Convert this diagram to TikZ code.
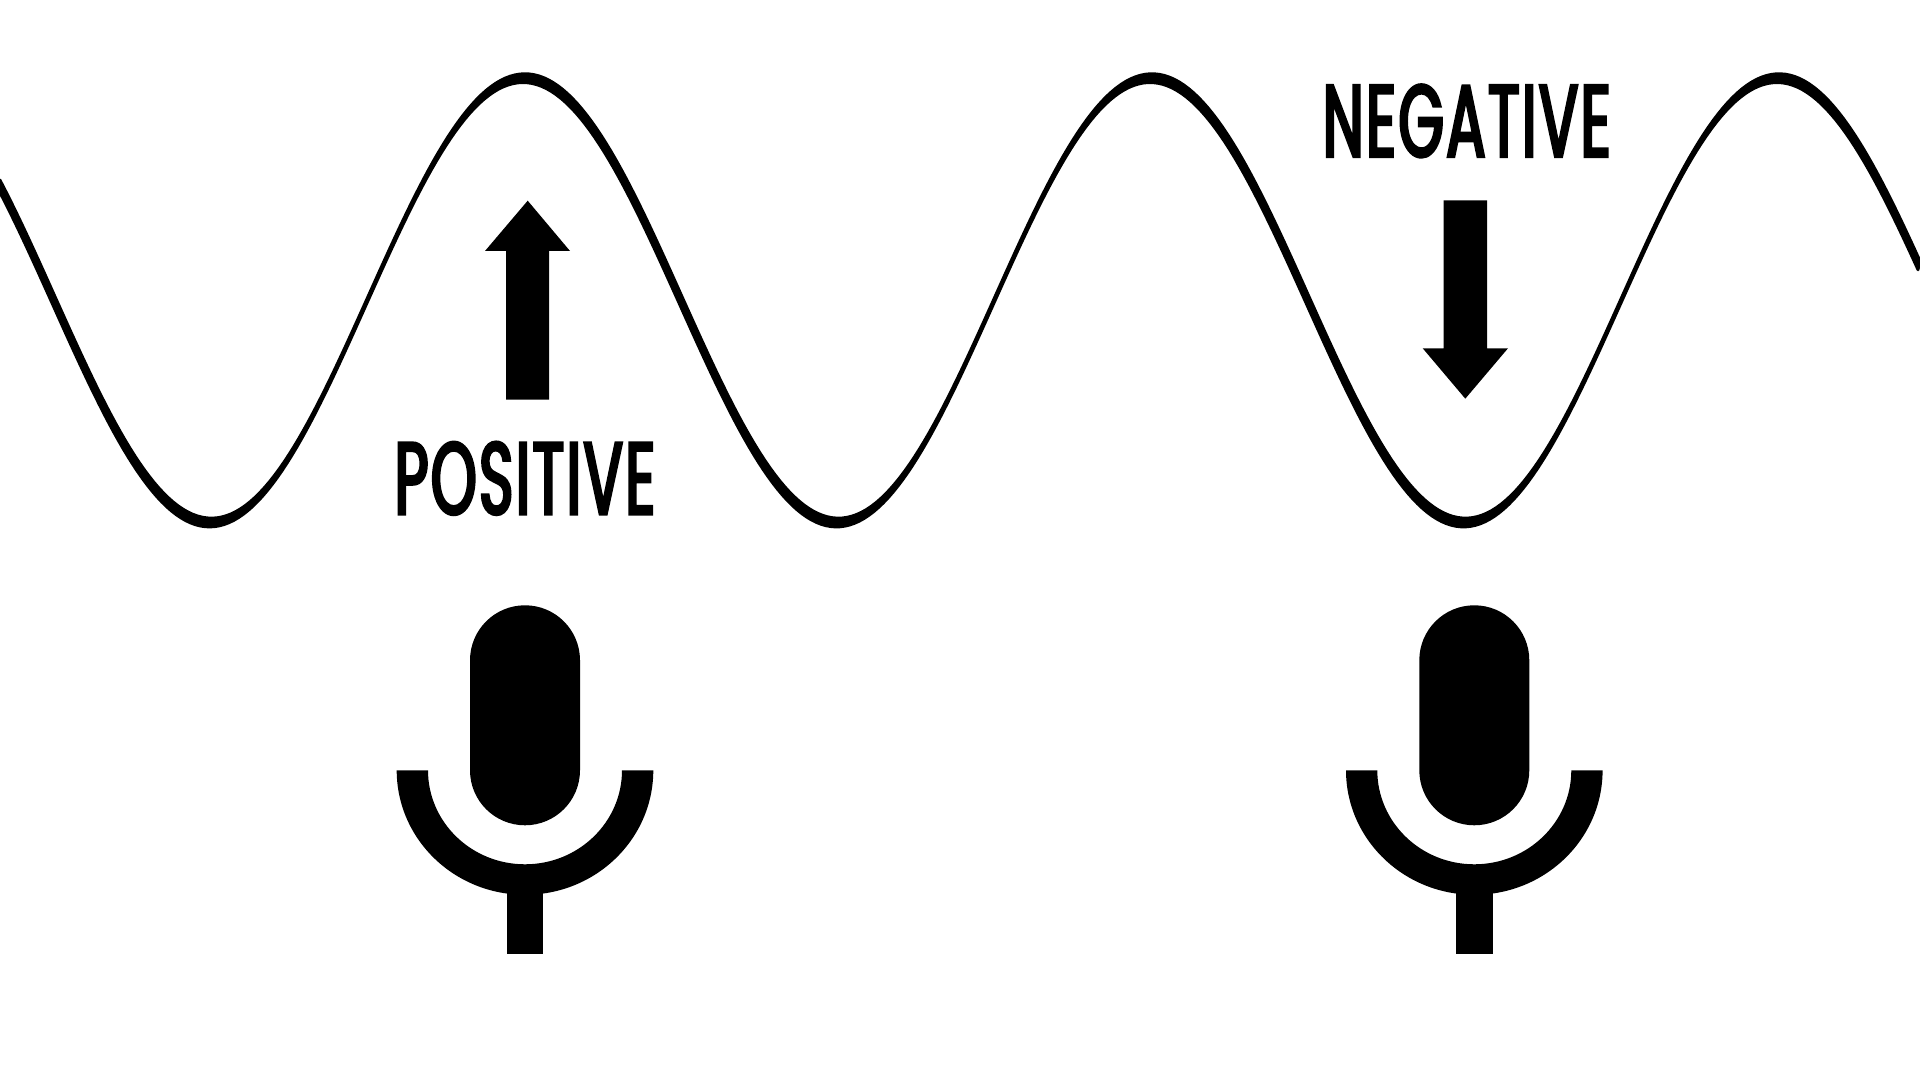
\documentclass[tikz,border=0pt]{standalone}
\usepackage{fontspec}
\newfontfamily\labelfont[FakeStretch=0.57,FakeBold=3,LetterSpace=2.5]{Poppins}
\tikzset{
  wavefill/.style={fill=black,draw=black,line width=0.8pt,line join=round},
  labeltext/.style={font=\labelfont\fontsize{29}{29}\selectfont,inner sep=0pt,anchor=base}
}
% one microphone, origin at the top of the capsule axis
\newcommand{\micshape}[2]{%
  \fill[shift={(#1,#2)}] (-55,55) arc (180:360:55) -- (55,165) arc (0:180:55) -- cycle;
  \fill[shift={(#1,#2)}] (-128.3,165) arc (180:0:128.3 and 124.5) -- (97,165)
    arc (0:180:97 and 94) -- cycle;
  \fill[shift={(#1,#2)}] (-18.3,285) rectangle (18.3,348.4);
}
\begin{document}
\begin{tikzpicture}[x=0.01cm,y=-0.01cm]
\useasboundingbox (0,0) rectangle (1920,1080);
%wave
\filldraw[wavefill,samples=400,domain=0:1920]
  plot (\x, { 295.9 - 222.2*cos((\x-525)/627*360) })
  -- plot[domain=1920:0] (\x-2, { 295.9 + 8.9 - 222.2*cos((\x-525)/627*360) }) -- cycle;
%arrows
\fill (527.7,200.7) -- (570,251) -- (549,251) -- (549,399.7) -- (506,399.7) -- (506,251)
  -- (485,251) -- cycle;
\fill (1465.3,398.7) -- (1508,348.3) -- (1487,348.3) -- (1487,200.3) -- (1443.7,200.3)
  -- (1443.7,348.3) -- (1422.7,348.3) -- cycle;
%labels
\node[labeltext] (positive) at (525,514) {POSITIVE};
\node[labeltext] (negative) at (1466.7,156.6) {NEGATIVE};
%mics
\micshape{525}{605.3}
\micshape{1474.3}{605.3}
\end{tikzpicture}
\end{document}
